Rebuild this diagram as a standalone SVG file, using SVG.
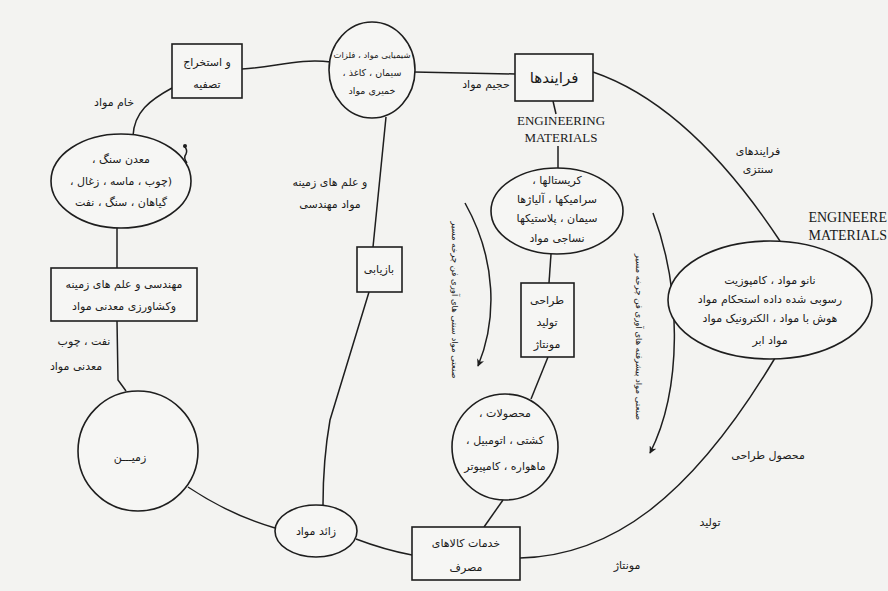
<svg xmlns="http://www.w3.org/2000/svg" width="888" height="591" viewBox="0 0 888 591">
<defs>
<style>
.bg{fill:#f3f3f1}
.shape{fill:#f6f6f4;stroke:#1e1e1e;stroke-width:1.6}
.ln{fill:none;stroke:#1e1e1e;stroke-width:1.5}
.fa{font-family:"DejaVu Sans",sans-serif;font-size:11px;fill:#1a1a1a;text-anchor:middle}
.en{font-family:"Liberation Serif",serif;font-size:13px;fill:#1a1a1a}
.vt{font-family:"DejaVu Sans",sans-serif;font-size:8.5px;fill:#1a1a1a;text-anchor:middle}
</style>
<marker id="arr" viewBox="0 0 10 10" refX="9" refY="5" markerWidth="5" markerHeight="5" orient="auto">
<path d="M0,0 L10,5 L0,10 L3,5 z" fill="#1e1e1e"/>
</marker>
</defs>
<rect class="bg" x="0" y="0" width="888" height="591"/>

<g id="connectors">
<path class="ln" d="M242,69 C275,67 300,58 331,62"/>
<path class="ln" d="M172,88 C150,100 134,112 133,136"/>
<path class="ln" d="M414,72 L515,74"/>
<path class="ln" d="M386,117 L373,247"/>
<path class="ln" d="M369,292 L330,420 Q323,460 323,505"/>
<path class="ln" d="M356,539 Q385,550 412,555"/>
<path class="ln" d="M188,487 Q230,515 275,528"/>
<path class="ln" d="M117,321 L118,380 L126,391"/>
<path class="ln" d="M117,228 L117,268"/>
<path class="ln" d="M553,101 L556,114"/>
<path class="ln" d="M558,146 L558,168"/>
<path class="ln" d="M551,254 L549,283"/>
<path class="ln" d="M548,357 L531,399"/>
<path class="ln" d="M503,500 L484,527"/>
<path class="ln" d="M520,558 C610,556 690,500 775,358"/>
<path class="ln" d="M593,72 Q690,105 780,241"/>
<path class="ln" d="M465,203 C497,260 497,320 478,366" marker-end="url(#arr)"/>
<path class="ln" d="M653,213 C682,290 682,390 650,453" marker-end="url(#arr)"/>
<path class="ln" d="M184,146 q4,4 2,8 q-3,4 1,9"/>
<circle cx="185" cy="146" r="2" fill="#1e1e1e"/>
</g>

<g id="labels">
<text class="fa" x="114" y="106">خام مواد</text>
<text class="fa" x="330" y="186">و علم های زمینه</text>
<text class="fa" x="330" y="208">مواد مهندسی</text>
<text class="fa" x="486" y="88">حجیم مواد</text>
<text class="en" x="561" y="125" text-anchor="middle">ENGINEERING</text>
<text class="en" x="561" y="142" text-anchor="middle">MATERIALS</text>
<text class="fa" x="758" y="155">فرایندهای</text>
<text class="fa" x="758" y="173">سنتزی</text>
<text class="en" x="887" y="222" text-anchor="end" style="font-size:14px">ENGINEERE</text>
<text class="en" x="887" y="240" text-anchor="end" style="font-size:14px">MATERIALS</text>
<text class="fa" x="84" y="345">نفت ، چوب</text>
<text class="fa" x="76" y="370">معدنی مواد</text>
<text class="fa" x="768" y="459">محصول طراحی</text>
<text class="fa" x="710" y="526">تولید</text>
<text class="fa" x="627" y="569">مونتاژ</text>
<text class="vt" transform="translate(452,300) rotate(90)">صنعتی مواد سنتی های آوری فن چرخه مسیر</text>
<text class="vt" transform="translate(636,337) rotate(90)">صنعتی مواد پیشرفته های آوری فن چرخه مسیر</text>
</g>

<g id="node-extraction">
<rect class="shape" x="172" y="44" width="70" height="54"/>
<text class="fa" x="207" y="66">و استخراج</text>
<text class="fa" x="207" y="88">تصفیه</text>
</g>

<g id="node-metals">
<ellipse class="shape" cx="372" cy="70" rx="43" ry="48"/>
<text class="fa" x="372" y="58" style="font-size:8.5px">شیمیایی مواد ، فلزات</text>
<text class="fa" x="372" y="76" style="font-size:9.5px">، سیمان ، کاغذ</text>
<text class="fa" x="372" y="94" style="font-size:9.5px">خمیری مواد</text>
</g>

<g id="node-processes">
<rect class="shape" x="515" y="54" width="78" height="47"/>
<text class="fa" x="554" y="83" style="font-size:15px">فرایندها</text>
</g>

<g id="node-crystals">
<ellipse class="shape" cx="557" cy="211" rx="66" ry="43"/>
<text class="fa" x="557" y="184">، کریستالها</text>
<text class="fa" x="557" y="203">سرامیکها ، آلیاژها</text>
<text class="fa" x="557" y="222">سیمان ، پلاستیکها</text>
<text class="fa" x="557" y="242">نساجی مواد</text>
</g>

<g id="node-design">
<rect class="shape" x="521" y="283" width="53" height="74"/>
<text class="fa" x="547" y="304">طراحی</text>
<text class="fa" x="547" y="326">تولید</text>
<text class="fa" x="547" y="348">مونتاژ</text>
</g>

<g id="node-products">
<circle class="shape" cx="505" cy="447" r="53"/>
<text class="fa" x="505" y="417">، محصولات</text>
<text class="fa" x="505" y="444">، کشتی ، اتومبیل</text>
<text class="fa" x="505" y="470">ماهواره ، کامپیوتر</text>
</g>

<g id="node-goods">
<rect class="shape" x="412" y="527" width="108" height="53"/>
<text class="fa" x="466" y="547">خدمات کالاهای</text>
<text class="fa" x="466" y="571">مصرف</text>
</g>

<g id="node-waste">
<ellipse class="shape" cx="316" cy="531" rx="41" ry="26"/>
<text class="fa" x="316" y="535">زائد مواد</text>
</g>

<g id="node-earth">
<circle class="shape" cx="138" cy="451" r="60"/>
<text class="fa" x="130" y="461">زمیـــن</text>
</g>

<g id="node-mining-fields">
<rect class="shape" x="51" y="268" width="146" height="53"/>
<text class="fa" x="124" y="288">مهندسی و علم های زمینه</text>
<text class="fa" x="124" y="310">وکشاورزی معدنی مواد</text>
</g>

<g id="node-ore">
<ellipse class="shape" cx="121" cy="181" rx="70" ry="47"/>
<text class="fa" x="121" y="163">، معدن سنگ</text>
<text class="fa" x="121" y="185">، چوب ، ماسه ، زغال)</text>
<text class="fa" x="121" y="206">گیاهان ، سنگ ، نفت</text>
</g>

<g id="node-recycling">
<rect class="shape" x="357" y="247" width="45" height="45"/>
<text class="fa" x="379" y="273">بازیابی</text>
</g>

<g id="node-advanced">
<ellipse class="shape" cx="770" cy="300" rx="102" ry="59"/>
<text class="fa" x="770" y="284">نانو مواد ، کامپوزیت</text>
<text class="fa" x="770" y="303">رسوبی شده داده استحکام مواد</text>
<text class="fa" x="770" y="322">هوش با مواد ، الکترونیک مواد</text>
<text class="fa" x="770" y="344">مواد ابر</text>
</g>
</svg>
